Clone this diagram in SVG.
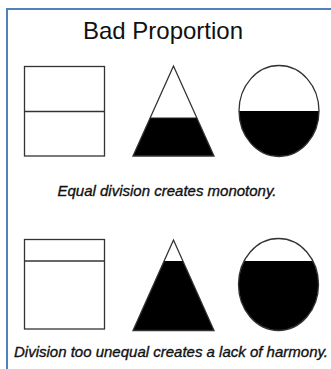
<svg xmlns="http://www.w3.org/2000/svg" width="331" height="369" viewBox="0 0 331 369">
<style>
.frame{fill:none;stroke:#4f81bd;stroke-width:2}
.ol{fill:none;stroke:#333;stroke-width:1.3}
.blk{fill:#000}
.title{font-family:"Liberation Sans",Arial,sans-serif;font-size:24px;fill:#111}
.cap{font-family:"Liberation Sans",Arial,sans-serif;font-size:15px;font-style:italic;fill:#111;stroke:#111;stroke-width:0.35}
</style>
<defs>
<clipPath id="tri1"><polygon points="173.5,66 133,156 214,156"/></clipPath>
<clipPath id="ell1"><ellipse cx="279" cy="111" rx="40" ry="45.5"/></clipPath>
<clipPath id="tri2"><polygon points="173.5,240 133,330.5 214,330.5"/></clipPath>
<clipPath id="ell2"><ellipse cx="278.5" cy="284.5" rx="40" ry="46"/></clipPath>
</defs>
<rect x="0" y="0" width="331" height="369" fill="#fff"/>
<path class="frame" d="M7,369 V9 H331"/>
<text class="title" x="163" y="39" text-anchor="middle">Bad Proportion</text>

<g id="square-equal">
<rect class="ol" x="24.5" y="66.5" width="80" height="89.5"/>
<line class="ol" x1="24.5" y1="111.5" x2="104.5" y2="111.5"/>
</g>
<g id="triangle-equal">
<rect class="blk" x="130" y="118" width="90" height="40" clip-path="url(#tri1)"/>
<polygon class="ol" points="173.5,66 133,156 214,156" stroke="#222" stroke-width="1.2"/>
<line x1="150" y1="118" x2="197" y2="118" stroke="#222" stroke-width="1"/>
</g>
<g id="circle-equal">
<rect class="blk" x="236" y="111" width="86" height="48" clip-path="url(#ell1)"/>
<ellipse class="ol" cx="279" cy="111" rx="40" ry="45.5"/>
</g>
<text class="cap" x="167" y="196" text-anchor="middle">Equal division creates monotony.</text>

<g id="square-unequal">
<rect class="ol" x="24.5" y="239.5" width="80" height="89.5"/>
<line class="ol" x1="24.5" y1="261" x2="104.5" y2="261"/>
</g>
<g id="triangle-unequal">
<rect class="blk" x="130" y="261" width="90" height="72" clip-path="url(#tri2)"/>
<polygon class="ol" points="173.5,240 133,330.5 214,330.5" stroke="#222" stroke-width="1.2"/>
</g>
<g id="circle-unequal">
<rect class="blk" x="236" y="261" width="86" height="72" clip-path="url(#ell2)"/>
<ellipse class="ol" cx="278.5" cy="284.5" rx="40" ry="46"/>
</g>
<text class="cap" x="171" y="356.5" text-anchor="middle">Division too unequal creates a lack of harmony.</text>
</svg>
